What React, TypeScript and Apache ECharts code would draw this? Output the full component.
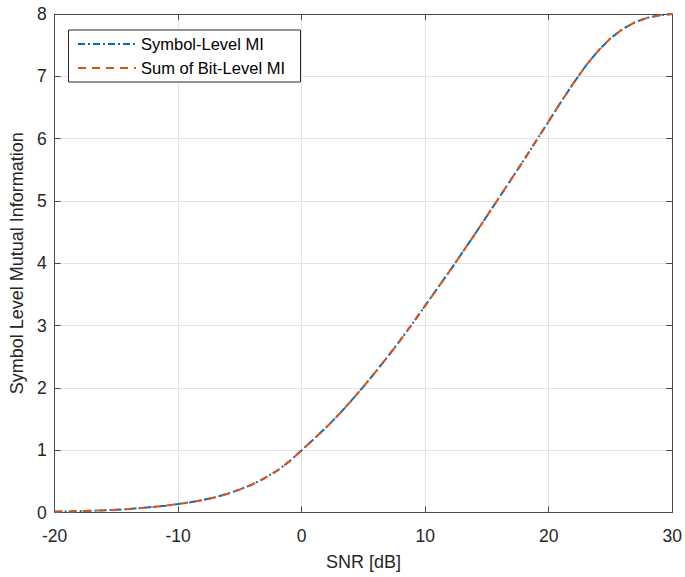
import React, { useEffect, useRef } from "react";
import * as echarts from "echarts";

const snr: number[] = [
  -20, -19, -18, -17, -16, -15, -14, -13, -12, -11, -10, -9, -8, -7, -6, -5, -4, -3, -2, -1,
  0, 1, 2, 3, 4, 5, 6, 7, 8, 9, 10, 11, 12, 13, 14, 15, 16, 17, 18, 19, 20,
  21, 22, 23, 24, 25, 26, 27, 28, 29, 30,
];

const symbolLevelMI: number[] = [
  0.012, 0.016, 0.021, 0.027, 0.035, 0.045, 0.057, 0.072, 0.09, 0.11, 0.135, 0.165, 0.2, 0.245, 0.3, 0.37, 0.45, 0.55, 0.67, 0.82,
  1.0, 1.18, 1.37, 1.57, 1.79, 2.02, 2.26, 2.51, 2.77, 3.04, 3.32, 3.6, 3.88, 4.17, 4.46, 4.76, 5.06, 5.36, 5.66, 5.97, 6.28,
  6.59, 6.89, 7.17, 7.41, 7.61, 7.76, 7.87, 7.94, 7.98, 8.0,
];

const sumBitLevelMI: number[] = [
  0.012, 0.016, 0.021, 0.027, 0.035, 0.045, 0.057, 0.072, 0.09, 0.11, 0.135, 0.165, 0.2, 0.245, 0.3, 0.37, 0.45, 0.55, 0.67, 0.82,
  1.0, 1.18, 1.37, 1.57, 1.79, 2.02, 2.26, 2.51, 2.77, 3.04, 3.32, 3.6, 3.88, 4.17, 4.46, 4.76, 5.06, 5.36, 5.66, 5.97, 6.28,
  6.59, 6.89, 7.17, 7.41, 7.61, 7.76, 7.87, 7.94, 7.98, 8.0,
];

const seriesNames = ["Symbol-Level MI", "Sum of Bit-Level MI"];
const xAxisName = "SNR [dB]";
const yAxisName = "Symbol Level Mutual Information";

const FONT = "'Liberation Sans', Arial, Helvetica, sans-serif";
const AXIS_COLOR = "#4a4a4a";
const TEXT_COLOR = "#262626";
const GRID_COLOR = "#e3e3e3";

export default function App() {
  const ref = useRef<HTMLDivElement>(null);

  useEffect(() => {
    if (!ref.current) return;
    const chart = echarts.init(ref.current, undefined, { renderer: "svg" });

    const tick = { show: true, inside: true, length: 6, lineStyle: { color: AXIS_COLOR, width: 1 } };
    const axisLine = { show: true, onZero: false, lineStyle: { color: AXIS_COLOR, width: 1 } };

    chart.setOption({
      animation: false,
      backgroundColor: "#ffffff",
      textStyle: { fontFamily: FONT },
      grid: { left: 52.5, right: 10.5, top: 14, bottom: 64.5, containLabel: false },
      legend: {
        show: true,
        left: 77,
        top: 35.5,
        orient: "vertical",
        itemWidth: 58,
        itemHeight: 17,
        itemGap: 7,
        padding: 0,
        z: 100,
        itemStyle: { opacity: 0 },
        textStyle: { fontFamily: FONT, fontSize: 16.5, color: "#000000", lineHeight: 17 },
        data: seriesNames,
      },
      graphic: [
        {
          type: "rect",
          left: 68,
          top: 29.5,
          shape: { width: 232, height: 52 },
          style: { fill: "#ffffff", stroke: "#262626", lineWidth: 1 },
          z: 50,
        },
      ],
      xAxis: [
        {
          type: "value",
          min: -20,
          max: 30,
          interval: 10,
          position: "bottom",
          name: xAxisName,
          nameLocation: "middle",
          nameGap: 40,
          nameTextStyle: { fontFamily: FONT, fontSize: 18, color: TEXT_COLOR },
          axisLine,
          axisTick: tick,
          axisLabel: { fontFamily: FONT, fontSize: 17.5, color: TEXT_COLOR, margin: 14 },
          splitLine: { show: true, lineStyle: { color: GRID_COLOR, width: 1 } },
        },
        {
          type: "value",
          min: -20,
          max: 30,
          interval: 10,
          position: "top",
          axisLine,
          axisTick: tick,
          axisLabel: { show: false },
          splitLine: { show: false },
        },
      ],
      yAxis: [
        {
          type: "value",
          min: 0,
          max: 8,
          interval: 1,
          position: "left",
          name: yAxisName,
          nameLocation: "middle",
          nameGap: 28,
          nameTextStyle: { fontFamily: FONT, fontSize: 18, color: TEXT_COLOR },
          axisLine,
          axisTick: tick,
          axisLabel: { fontFamily: FONT, fontSize: 17.5, color: TEXT_COLOR, margin: 8 },
          splitLine: { show: true, lineStyle: { color: GRID_COLOR, width: 1 } },
        },
        {
          type: "value",
          min: 0,
          max: 8,
          interval: 1,
          position: "right",
          axisLine,
          axisTick: tick,
          axisLabel: { show: false },
          splitLine: { show: false },
        },
      ],
      series: [
        {
          name: seriesNames[0],
          type: "line",
          xAxisIndex: 0,
          yAxisIndex: 0,
          data: snr.map((x, i) => [x, symbolLevelMI[i]]),
          symbol: "none",
          color: "#0072BD",
          lineStyle: { color: "#0072BD", width: 2, type: [7, 3, 2, 3] },
          z: 2,
        },
        {
          name: seriesNames[1],
          type: "line",
          xAxisIndex: 0,
          yAxisIndex: 0,
          data: snr.map((x, i) => [x, sumBitLevelMI[i]]),
          symbol: "none",
          color: "#D95319",
          lineStyle: { color: "#D95319", width: 2, type: [8, 6] },
          z: 3,
        },
      ],
    });

    return () => chart.dispose();
  }, []);

  return <div ref={ref} style={{ width: 685, height: 577, position: "absolute", left: 0, top: 0 }} />;
}
